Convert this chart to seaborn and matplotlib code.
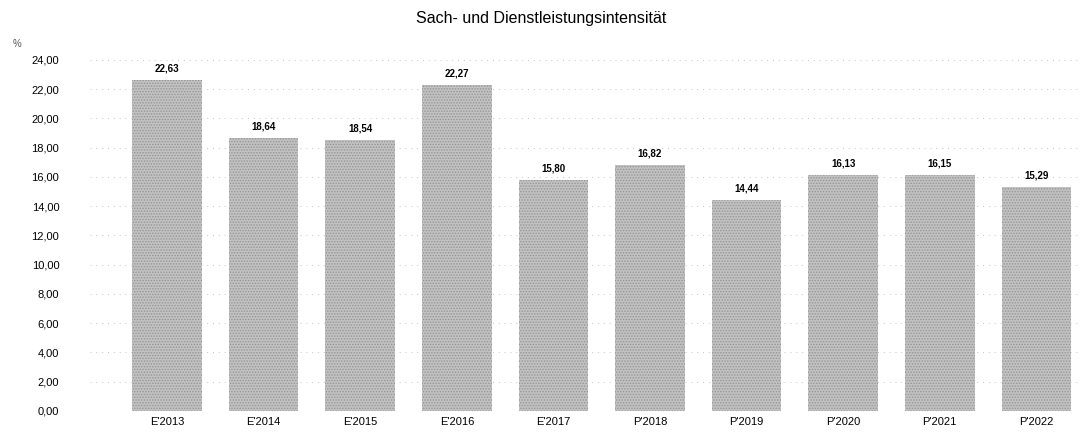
import numpy as np
import pandas as pd
import matplotlib
matplotlib.use("Agg")
import matplotlib.pyplot as plt
import seaborn as sns

jahre = ["E'2013", "E'2014", "E'2015", "E'2016", "E'2017",
         "P'2018", "P'2019", "P'2020", "P'2021", "P'2022"]
werte = [22.63, 18.64, 18.54, 22.27, 15.80, 16.82, 14.44, 16.13, 16.15, 15.29]
y_ticks = [0, 2, 4, 6, 8, 10, 12, 14, 16, 18, 20, 22, 24]

df = pd.DataFrame({"jahr": jahre, "wert": werte})

sns.set_style("white")
plt.rcParams["font.family"] = ["Liberation Sans", "DejaVu Sans"]
plt.rcParams["hatch.linewidth"] = 0.7
plt.rcParams["text.color"] = "black"
plt.rcParams["xtick.color"] = "black"
plt.rcParams["ytick.color"] = "black"

fig = plt.figure(figsize=(10.82, 4.34), dpi=100)
ax = fig.add_axes([0.083, 0.053, 0.915, 0.809])

sns.barplot(
    data=df,
    x="jahr",
    y="wert",
    color="#c2c2c2",
    saturation=1,
    width=0.72,
    ax=ax
)

# grobe Punktstruktur wie im Original
for p in ax.patches:
    p.set_hatch("......")
    p.set_edgecolor("#949494")
    p.set_linewidth(0)

for i, v in enumerate(werte):
    ax.text(i, v + 0.45, f"{v:.2f}".replace(".", ","),
            ha="center", va="bottom", fontsize=7, fontweight="bold")

ax.set_ylim(0, 24)
ax.set_xlim(-0.8, 9.45)
ax.set_yticks(y_ticks)
ax.set_yticklabels([f"{t:.2f}".replace(".", ",") for t in y_ticks])
ax.yaxis.grid(True, linestyle=(0, (1, 5)), color="#c4c4c4", linewidth=0.7)
ax.set_axisbelow(True)
for s in ax.spines.values():
    s.set_visible(False)
ax.tick_params(axis="both", length=0, labelsize=8, pad=22)
ax.tick_params(axis="x", pad=4)
ax.set_xlabel("")
ax.set_ylabel("")

fig.text(0.012, 0.892, "%", fontsize=7, color="#555555")
fig.suptitle("Sach- und Dienstleistungsintensität", y=0.975, fontsize=11.5)

plt.savefig("out.png", dpi=100)
